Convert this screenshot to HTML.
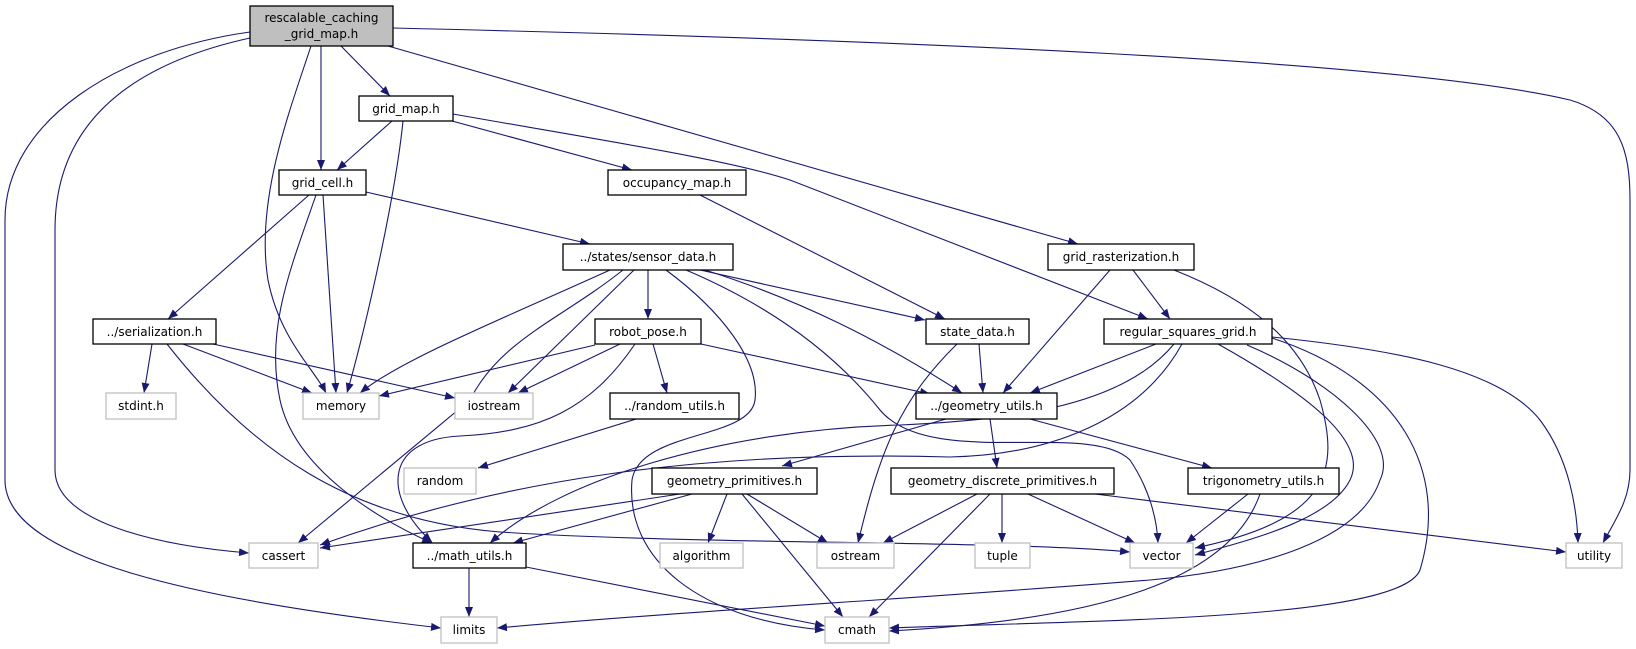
<!DOCTYPE html>
<html><head><meta charset="utf-8"><style>
html,body{margin:0;padding:0;background:#fff;}
svg{display:block;}
text{font-family:"DejaVu Sans","Liberation Sans",sans-serif;font-size:12px;fill:#000;text-anchor:middle;}
.e{fill:none;stroke:#191970;stroke-width:1.1;marker-end:url(#a);}
.n{fill:#fff;stroke:#000;stroke-width:1.3;}
.g{fill:#fff;stroke:#c0c0c0;stroke-width:1.3;}
</style></head><body>
<svg width="1636" height="649" viewBox="0 0 1636 649" xmlns="http://www.w3.org/2000/svg">
<defs><marker id="a" markerUnits="userSpaceOnUse" markerWidth="11" markerHeight="8" refX="10" refY="4" orient="auto"><path d="M0,0 L10,4 L0,8 z" fill="#191970"/></marker></defs>
<!-- edges -->
<path class="e" d="M250,32 C120,50 5,120 5,220 L5,480 C5,560 200,600 441,628"/>
<path class="e" d="M250,38 C150,60 55,110 55,230 L55,470 C55,520 150,545 249,553"/>
<path class="e" d="M311,46 C290,110 255,200 268,280 C280,340 315,370 326,393"/>
<path class="e" d="M321,46 L321,170"/>
<path class="e" d="M341,46 L390,96"/>
<path class="e" d="M388,46 L1078,244"/>
<path class="e" d="M393,28 C900,40 1400,60 1570,100 C1620,115 1630,150 1630,200 L1630,470 C1630,500 1615,520 1603,543"/>
<path class="e" d="M392,121 L337,170"/>
<path class="e" d="M403,121 C395,200 365,330 347,393"/>
<path class="e" d="M452,121 L632,170"/>
<path class="e" d="M453,114 C600,140 730,160 790,180 L1148,319"/>
<path class="e" d="M309,195 L168,319"/>
<path class="e" d="M316,195 C290,270 265,330 280,400 C295,470 380,520 432,543"/>
<path class="e" d="M323,195 L336,393"/>
<path class="e" d="M366,192 L590,244"/>
<path class="e" d="M700,195 L945,319"/>
<path class="e" d="M610,270 C500,320 400,360 360,393"/>
<path class="e" d="M623,270 C560,320 500,340 470,400 L298,543"/>
<path class="e" d="M634,270 L508,393"/>
<path class="e" d="M648,270 L648,319"/>
<path class="e" d="M666,270 C720,310 760,360 755,400 C750,440 640,430 632,480 C625,560 700,620 825,630"/>
<path class="e" d="M686,270 C780,310 840,360 880,410 C930,470 1090,420 1130,460 C1150,490 1157,520 1158,543"/>
<path class="e" d="M700,270 L925,320"/>
<path class="e" d="M705,270 C800,300 880,340 962,393"/>
<path class="e" d="M1110,270 L1003,393"/>
<path class="e" d="M1133,270 L1170,319"/>
<path class="e" d="M1174,270 C1250,300 1300,340 1320,400 C1340,470 1330,520 1195,548"/>
<path class="e" d="M152,344 L144,393"/>
<path class="e" d="M183,344 L312,393"/>
<path class="e" d="M213,344 L455,398"/>
<path class="e" d="M167,344 C250,450 350,520 500,532 C700,545 1000,540 1130,552"/>
<path class="e" d="M595,345 L379,396"/>
<path class="e" d="M620,344 L518,393"/>
<path class="e" d="M653,344 L667,393"/>
<path class="e" d="M635,344 C590,410 540,432 460,436 C380,440 385,500 432,542"/>
<path class="e" d="M701,344 L930,394"/>
<path class="e" d="M636,419 L478,468"/>
<path class="e" d="M979,344 L983,393"/>
<path class="e" d="M957,344 C900,400 880,450 858,543"/>
<path class="e" d="M1156,344 L1030,393"/>
<path class="e" d="M1174,344 C1120,410 1000,420 900,425 C720,430 560,480 490,543"/>
<path class="e" d="M1182,344 C1140,420 1050,455 950,457 C700,450 500,480 320,545"/>
<path class="e" d="M1218,344 C1300,390 1370,440 1350,480 C1330,520 1250,540 1195,555"/>
<path class="e" d="M1247,345 C1330,380 1400,440 1380,480 C1360,540 1260,570 1150,580 C900,600 700,610 497,628"/>
<path class="e" d="M1272,338 C1400,380 1450,470 1420,570 C1400,620 1100,620 889,628"/>
<path class="e" d="M1272,337 C1400,350 1500,370 1540,420 C1570,460 1577,510 1578,543"/>
<path class="e" d="M946,419 L782,466"/>
<path class="e" d="M990,419 L997,468"/>
<path class="e" d="M1030,419 L1212,468"/>
<path class="e" d="M1248,494 L1186,543"/>
<path class="e" d="M1260,494 C1230,580 1100,620 889,631"/>
<path class="e" d="M680,494 L320,548"/>
<path class="e" d="M692,494 L513,543"/>
<path class="e" d="M727,494 L708,543"/>
<path class="e" d="M747,494 L828,543"/>
<path class="e" d="M742,494 L843,617"/>
<path class="e" d="M977,494 L883,543"/>
<path class="e" d="M990,494 L869,617"/>
<path class="e" d="M1002,494 L1002,543"/>
<path class="e" d="M1028,494 L1135,543"/>
<path class="e" d="M1095,494 L1566,552"/>
<path class="e" d="M469,568 L469,617"/>
<path class="e" d="M526,567 L825,626"/>
<!-- nodes -->
<rect x="250" y="6" width="143" height="40" fill="#bfbfbf" stroke="#000" stroke-width="1.3"/>
<text x="321.5" y="22">rescalable_caching</text><text x="321.5" y="38">_grid_map.h</text>
<rect class="n" x="359" y="96" width="94" height="25"/><text x="406" y="113">grid_map.h</text>
<rect class="n" x="279" y="170" width="87" height="25"/><text x="322.5" y="187">grid_cell.h</text>
<rect class="n" x="608" y="170" width="138" height="25"/><text x="677" y="187">occupancy_map.h</text>
<rect class="n" x="563" y="244" width="170" height="26"/><text x="648" y="261">../states/sensor_data.h</text>
<rect class="n" x="1048" y="244" width="146" height="26"/><text x="1121" y="261">grid_rasterization.h</text>
<rect class="n" x="93" y="319" width="123" height="25"/><text x="154.5" y="336">../serialization.h</text>
<rect class="n" x="595" y="319" width="106" height="25"/><text x="648" y="336">robot_pose.h</text>
<rect class="n" x="926" y="319" width="103" height="25"/><text x="977.5" y="336">state_data.h</text>
<rect class="n" x="1104" y="319" width="168" height="25"/><text x="1188" y="336">regular_squares_grid.h</text>
<rect class="g" x="106" y="393" width="70" height="26"/><text x="141" y="410">stdint.h</text>
<rect class="g" x="303" y="393" width="76" height="26"/><text x="341" y="410">memory</text>
<rect class="g" x="455" y="393" width="78" height="26"/><text x="494" y="410">iostream</text>
<rect class="n" x="610" y="393" width="129" height="26"/><text x="674.5" y="410">../random_utils.h</text>
<rect class="n" x="916" y="393" width="141" height="26"/><text x="986.5" y="410">../geometry_utils.h</text>
<rect class="g" x="404" y="468" width="72" height="26"/><text x="440" y="485">random</text>
<rect class="n" x="652" y="468" width="165" height="26"/><text x="734.5" y="485">geometry_primitives.h</text>
<rect class="n" x="891" y="468" width="223" height="26"/><text x="1002.5" y="485">geometry_discrete_primitives.h</text>
<rect class="n" x="1188" y="468" width="151" height="26"/><text x="1263.5" y="485">trigonometry_utils.h</text>
<rect class="g" x="249" y="543" width="69" height="25"/><text x="283.5" y="560">cassert</text>
<rect class="n" x="413" y="543" width="113" height="25"/><text x="469.5" y="560">../math_utils.h</text>
<rect class="g" x="660" y="543" width="83" height="25"/><text x="701.5" y="560">algorithm</text>
<rect class="g" x="817" y="543" width="77" height="25"/><text x="855.5" y="560">ostream</text>
<rect class="g" x="975" y="543" width="55" height="25"/><text x="1002.5" y="560">tuple</text>
<rect class="g" x="1130" y="543" width="63" height="25"/><text x="1161.5" y="560">vector</text>
<rect class="g" x="1566" y="543" width="56" height="25"/><text x="1594" y="560">utility</text>
<rect class="g" x="441" y="617" width="56" height="26"/><text x="469" y="634">limits</text>
<rect class="g" x="825" y="617" width="64" height="26"/><text x="857" y="634">cmath</text>
</svg>
</body></html>
